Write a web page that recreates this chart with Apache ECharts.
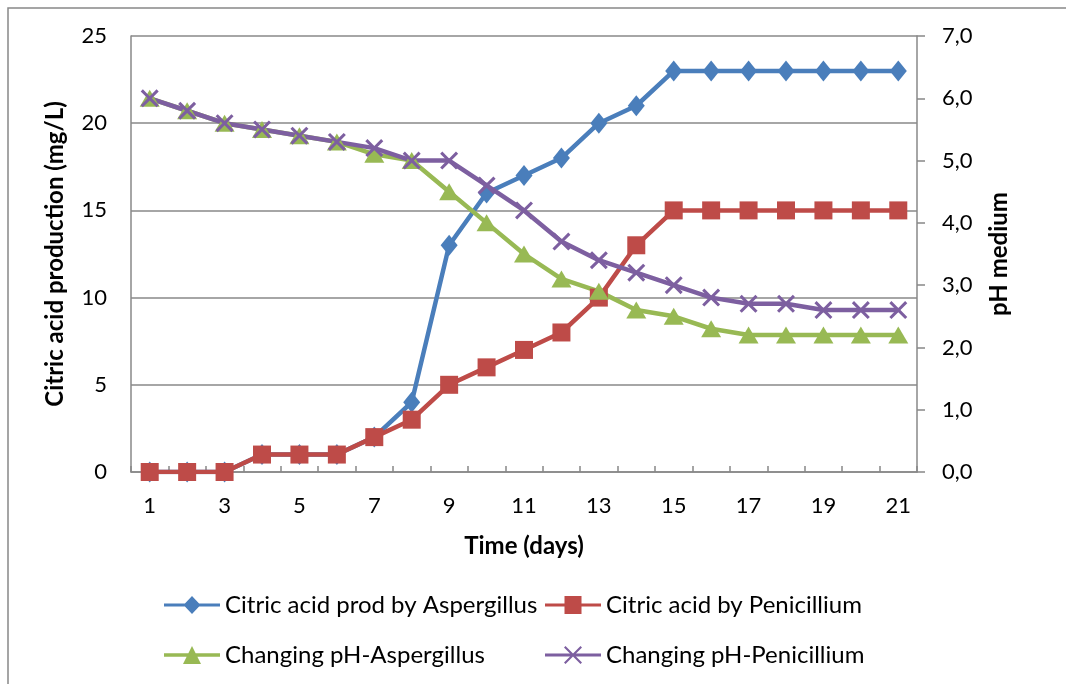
<!DOCTYPE html>
<html><head><meta charset="utf-8">
<script src="https://cdn.jsdelivr.net/npm/echarts@6/dist/echarts.min.js"></script>
<style>html,body{margin:0;padding:0;background:#fff}#c{width:1066px;height:684px}</style>
</head><body><div id="c"></div>
<script>
const days = ['1','2','3','4','5','6','7','8','9','10','11','12','13','14','15','16','17','18','19','20','21'];
const citricAspergillus = [0,0,0,1,1,1,2,4,13,16,17,18,20,21,23,23,23,23,23,23,23];
const citricPenicillium = [0,0,0,1,1,1,2,3,5,6,7,8,10,13,15,15,15,15,15,15,15];
const phAspergillus = [6.0,5.8,5.6,5.5,5.4,5.3,5.1,5.0,4.5,4.0,3.5,3.1,2.9,2.6,2.5,2.3,2.2,2.2,2.2,2.2,2.2];
const phPenicillium = [6.0,5.8,5.6,5.5,5.4,5.3,5.2,5.0,5.0,4.6,4.2,3.7,3.4,3.2,3.0,2.8,2.7,2.7,2.6,2.6,2.6];
const names = ['Citric acid prod by Aspergillus','Citric acid by Penicillium','Changing pH-Aspergillus','Changing pH-Penicillium'];
const colors = ['#4a7ebb','#be4b48','#98b954','#7d5fa0'];

const FONT = 'Lato';
const xSym = 'path://M0,1.2L1.2,0L5,3.8L8.8,0L10,1.2L6.2,5L10,8.8L8.8,10L5,6.2L1.2,10L0,8.8L3.8,5Z';
const LINE = 'M0,7.5L56,7.5L56,10.5L0,10.5Z';
const legIcons = [
  'path://' + LINE + 'M28,0L36.5,9L28,18L19.5,9Z',
  'path://' + LINE + 'M19.5,0.5L36.5,0.5L36.5,17.5L19.5,17.5Z',
  'path://' + LINE + 'M28,1L37,17L19,17Z',
  'path://' + LINE + 'M19,1.5L20.5,0L28,7.5L35.5,0L37,1.5L29.5,9L37,16.5L35.5,18L28,10.5L20.5,18L19,16.5L26.5,9Z'
];
const chart = echarts.init(document.getElementById('c'));
const legText = {fontFamily: FONT, fontSize: 24, color: '#000', lineHeight: 26};
function leg(i, left, top){
  return {data:[{name:names[i], icon:legIcons[i]}], left:left, top:top,
    itemWidth:56, itemHeight:18, itemGap:5, symbolKeepAspect:false,
    textStyle:legText, padding:0};
}
const titleStyle = {fontFamily:FONT, fontSize:24, fontWeight:'bold', color:'#000'};
const tickText = {fontFamily:FONT, fontSize:22, color:'#000'};
chart.setOption({
  animation:false,
  backgroundColor:'#fff',
  graphic:[{type:'rect', shape:{x:8,y:8,width:1100,height:700}, style:{fill:'none', stroke:'#888', lineWidth:1.5}, silent:true}],
  grid:{left:131, right:149, top:36, bottom:212, containLabel:false},
  legend:[leg(0,164,592), leg(1,545,592), leg(2,164,642), leg(3,545,642)],
  xAxis:{type:'category', data:days, boundaryGap:true,
    name:'Time (days)', nameLocation:'middle', nameGap:62, nameTextStyle:titleStyle,
    axisLine:{lineStyle:{color:'#888', width:1.5}},
    axisTick:{show:true, inside:true, length:6, interval:0, lineStyle:{color:'#888', width:1.5}},
    axisLabel:Object.assign({interval:1, margin:23}, tickText),
    splitLine:{show:false}},
  yAxis:[{type:'value', min:0, max:25, interval:5, position:'left',
    name:'Citric acid production (mg/L)', nameLocation:'middle', nameGap:64, nameRotate:90,
    nameTextStyle:titleStyle,
    axisLine:{show:true, lineStyle:{color:'#888', width:1.5}},
    axisTick:{show:false},
    axisLabel:Object.assign({margin:24}, tickText),
    splitLine:{show:true, lineStyle:{color:'#888', width:1.5}}},
   {type:'value', min:0, max:7, interval:1, position:'right',
    name:'pH medium', nameLocation:'middle', nameGap:70, nameRotate:90,
    nameTextStyle:titleStyle,
    axisLine:{show:true, lineStyle:{color:'#888', width:1.5}},
    axisTick:{show:true, length:8, lineStyle:{color:'#888', width:1.5}},
    axisLabel:Object.assign({margin:25, formatter:v=>v.toFixed(1).replace('.',',')}, tickText),
    splitLine:{show:false}}],
  series:[
    {name:names[0], type:'line', yAxisIndex:0, data:citricAspergillus, symbol:'diamond', symbolSize:[17,21],
      lineStyle:{color:colors[0], width:4.5}, itemStyle:{color:colors[0]}},
    {name:names[1], type:'line', yAxisIndex:0, data:citricPenicillium, symbol:'rect', symbolSize:18,
      lineStyle:{color:colors[1], width:4.5}, itemStyle:{color:colors[1]}},
    {name:names[2], type:'line', yAxisIndex:1, data:phAspergillus, symbol:'triangle', symbolSize:[20,17],
      lineStyle:{color:colors[2], width:4.5}, itemStyle:{color:colors[2]}},
    {name:names[3], type:'line', yAxisIndex:1, data:phPenicillium, symbol:xSym, symbolSize:18,
      lineStyle:{color:colors[3], width:4.5}, itemStyle:{color:colors[3]}}
  ]
});
</script></body></html>
